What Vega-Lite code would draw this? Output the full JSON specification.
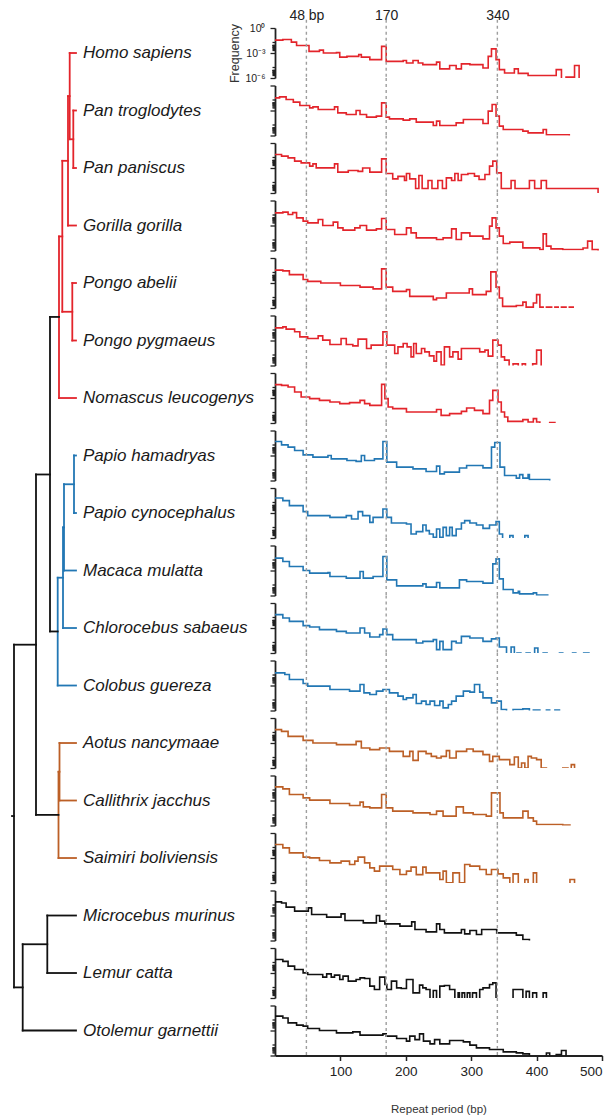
{
 "$schema": "https://vega.github.io/schema/vega-lite/v6.json",
 "background": "white",
 "padding": {"left": 0, "top": 8, "right": 4, "bottom": 4},
 "config": {"view": {"stroke": null}, "font": "Liberation Sans"},
 "datasets": {
  "sp": [
   {"s":0,"name":"Homo sapiens","clade":"Hominoidea"},
   {"s":1,"name":"Pan troglodytes","clade":"Hominoidea"},
   {"s":2,"name":"Pan paniscus","clade":"Hominoidea"},
   {"s":3,"name":"Gorilla gorilla","clade":"Hominoidea"},
   {"s":4,"name":"Pongo abelii","clade":"Hominoidea"},
   {"s":5,"name":"Pongo pygmaeus","clade":"Hominoidea"},
   {"s":6,"name":"Nomascus leucogenys","clade":"Hominoidea"},
   {"s":7,"name":"Papio hamadryas","clade":"Cercopithecidae"},
   {"s":8,"name":"Papio cynocephalus","clade":"Cercopithecidae"},
   {"s":9,"name":"Macaca mulatta","clade":"Cercopithecidae"},
   {"s":10,"name":"Chlorocebus sabaeus","clade":"Cercopithecidae"},
   {"s":11,"name":"Colobus guereza","clade":"Cercopithecidae"},
   {"s":12,"name":"Aotus nancymaae","clade":"Platyrrhini"},
   {"s":13,"name":"Callithrix jacchus","clade":"Platyrrhini"},
   {"s":14,"name":"Saimiri boliviensis","clade":"Platyrrhini"},
   {"s":15,"name":"Microcebus murinus","clade":"Strepsirrhini"},
   {"s":16,"name":"Lemur catta","clade":"Strepsirrhini"},
   {"s":17,"name":"Otolemur garnettii","clade":"Strepsirrhini"}
  ],
  "tree": [
   {"x":69.7,"x2":76,"y":0,"y2":0,"clade":"Hominoidea","name":"Homo sapiens"},
   {"x":73.3,"x2":76,"y":1,"y2":1,"clade":"Hominoidea","name":"Pan troglodytes"},
   {"x":73.3,"x2":76,"y":2,"y2":2,"clade":"Hominoidea","name":"Pan paniscus"},
   {"x":68,"x2":76,"y":3,"y2":3,"clade":"Hominoidea","name":"Gorilla gorilla"},
   {"x":72.3,"x2":76,"y":4,"y2":4,"clade":"Hominoidea","name":"Pongo abelii"},
   {"x":72.3,"x2":76,"y":5,"y2":5,"clade":"Hominoidea","name":"Pongo pygmaeus"},
   {"x":59,"x2":76,"y":6,"y2":6,"clade":"Hominoidea","name":"Nomascus leucogenys"},
   {"x":69.7,"x2":73.3,"y":1.5,"y2":1.5,"clade":"Hominoidea"},
   {"x":68,"x2":69.7,"y":0.75,"y2":0.75,"clade":"Hominoidea"},
   {"x":62.3,"x2":68,"y":1.875,"y2":1.875,"clade":"Hominoidea"},
   {"x":62.3,"x2":72.3,"y":4.5,"y2":4.5,"clade":"Hominoidea"},
   {"x":59,"x2":62.3,"y":3.19,"y2":3.19,"clade":"Hominoidea"},
   {"x":73.3,"x2":73.3,"y":1,"y2":2,"clade":"Hominoidea"},
   {"x":69.7,"x2":69.7,"y":0,"y2":1.5,"clade":"Hominoidea"},
   {"x":68,"x2":68,"y":0.75,"y2":3,"clade":"Hominoidea"},
   {"x":72.3,"x2":72.3,"y":4,"y2":5,"clade":"Hominoidea"},
   {"x":62.3,"x2":62.3,"y":1.875,"y2":4.5,"clade":"Hominoidea"},
   {"x":59,"x2":59,"y":3.19,"y2":6,"clade":"Hominoidea"},
   {"x":50,"x2":59,"y":4.59,"y2":4.59,"clade":"Stem"},
   {"x":74,"x2":76,"y":7,"y2":7,"clade":"Cercopithecidae","name":"Papio hamadryas"},
   {"x":74,"x2":76,"y":8,"y2":8,"clade":"Cercopithecidae","name":"Papio cynocephalus"},
   {"x":64,"x2":76,"y":9,"y2":9,"clade":"Cercopithecidae","name":"Macaca mulatta"},
   {"x":63,"x2":76,"y":10,"y2":10,"clade":"Cercopithecidae","name":"Chlorocebus sabaeus"},
   {"x":57.7,"x2":76,"y":11,"y2":11,"clade":"Cercopithecidae","name":"Colobus guereza"},
   {"x":64,"x2":74,"y":7.5,"y2":7.5,"clade":"Cercopithecidae"},
   {"x":63,"x2":64,"y":8.25,"y2":8.25,"clade":"Cercopithecidae"},
   {"x":57.7,"x2":63,"y":9.125,"y2":9.125,"clade":"Cercopithecidae"},
   {"x":74,"x2":74,"y":7,"y2":8,"clade":"Cercopithecidae"},
   {"x":64,"x2":64,"y":7.5,"y2":9,"clade":"Cercopithecidae"},
   {"x":63,"x2":63,"y":8.25,"y2":10,"clade":"Cercopithecidae"},
   {"x":57.7,"x2":57.7,"y":9.125,"y2":11,"clade":"Cercopithecidae"},
   {"x":50,"x2":57.7,"y":10.06,"y2":10.06,"clade":"Stem"},
   {"x":59.5,"x2":76,"y":12,"y2":12,"clade":"Platyrrhini","name":"Aotus nancymaae"},
   {"x":59.5,"x2":76,"y":13,"y2":13,"clade":"Platyrrhini","name":"Callithrix jacchus"},
   {"x":58.5,"x2":76,"y":14,"y2":14,"clade":"Platyrrhini","name":"Saimiri boliviensis"},
   {"x":58.5,"x2":59.5,"y":12.5,"y2":12.5,"clade":"Platyrrhini"},
   {"x":59.5,"x2":59.5,"y":12,"y2":13,"clade":"Platyrrhini"},
   {"x":58.5,"x2":58.5,"y":12.5,"y2":14,"clade":"Platyrrhini"},
   {"x":36,"x2":58.5,"y":13.25,"y2":13.25,"clade":"Stem"},
   {"x":47.3,"x2":76,"y":15,"y2":15,"clade":"Strepsirrhini","name":"Microcebus murinus"},
   {"x":47.3,"x2":76,"y":16,"y2":16,"clade":"Strepsirrhini","name":"Lemur catta"},
   {"x":22.7,"x2":76,"y":17,"y2":17,"clade":"Strepsirrhini","name":"Otolemur garnettii"},
   {"x":22.7,"x2":47.3,"y":15.5,"y2":15.5,"clade":"Strepsirrhini"},
   {"x":47.3,"x2":47.3,"y":15,"y2":16,"clade":"Strepsirrhini"},
   {"x":22.7,"x2":22.7,"y":15.5,"y2":17,"clade":"Strepsirrhini"},
   {"x":14,"x2":22.7,"y":16.25,"y2":16.25,"clade":"Stem"},
   {"x":50,"x2":50,"y":4.59,"y2":10.06,"clade":"Stem"},
   {"x":36,"x2":50,"y":7.33,"y2":7.33,"clade":"Stem"},
   {"x":36,"x2":36,"y":7.33,"y2":13.25,"clade":"Stem"},
   {"x":14,"x2":36,"y":10.29,"y2":10.29,"clade":"Stem"},
   {"x":14,"x2":14,"y":10.29,"y2":16.25,"clade":"Stem"},
   {"x":12,"x2":14,"y":13.27,"y2":13.27,"clade":"Stem"}
  ],
  "d": [
   {"s":0,"bp":0,"lf":-1.46},{"s":0,"bp":12,"lf":-1.38},{"s":0,"bp":25,"lf":-1.7},{"s":0,"bp":33,"lf":-2.1},{"s":0,"bp":52,"lf":-2.8},{"s":0,"bp":68,"lf":-2.66},{"s":0,"bp":74,"lf":-3.0},{"s":0,"bp":94,"lf":-2.95},{"s":0,"bp":99,"lf":-3.5},{"s":0,"bp":110,"lf":-3.4},{"s":0,"bp":128,"lf":-3.2},{"s":0,"bp":132,"lf":-3.5},{"s":0,"bp":145,"lf":-3.8},{"s":0,"bp":163,"lf":-2.2},{"s":0,"bp":170,"lf":-4.0},{"s":0,"bp":196,"lf":-3.9},{"s":0,"bp":201,"lf":-4.2},{"s":0,"bp":211,"lf":-3.9},{"s":0,"bp":219,"lf":-4.2},{"s":0,"bp":226,"lf":-4.4},{"s":0,"bp":247,"lf":-4.1},{"s":0,"bp":252,"lf":-4.9},{"s":0,"bp":267,"lf":-4.5},{"s":0,"bp":277,"lf":-4.9},{"s":0,"bp":285,"lf":-4.3},{"s":0,"bp":298,"lf":-4.4},{"s":0,"bp":318,"lf":-4.8},{"s":0,"bp":326,"lf":-3.4},{"s":0,"bp":331,"lf":-2.5},{"s":0,"bp":338,"lf":-3.8},{"s":0,"bp":343,"lf":-5.0},{"s":0,"bp":351,"lf":-5.4},{"s":0,"bp":366,"lf":-4.9},{"s":0,"bp":372,"lf":-5.45},{"s":0,"bp":387,"lf":-5.7},{"s":0,"bp":430,"lf":-5.0},{"s":0,"bp":438,"lf":-6.5},{"s":0,"bp":445,"lf":-5.9},{"s":0,"bp":458,"lf":-4.5},{"s":0,"bp":465,"lf":-7},
   {"s":1,"bp":0,"lf":-1.48},{"s":1,"bp":7,"lf":-1.36},{"s":1,"bp":17,"lf":-1.68},{"s":1,"bp":28,"lf":-2.0},{"s":1,"bp":38,"lf":-2.4},{"s":1,"bp":53,"lf":-2.68},{"s":1,"bp":58,"lf":-2.56},{"s":1,"bp":66,"lf":-2.88},{"s":1,"bp":91,"lf":-2.56},{"s":1,"bp":96,"lf":-3.28},{"s":1,"bp":109,"lf":-3.48},{"s":1,"bp":124,"lf":-3.0},{"s":1,"bp":130,"lf":-3.48},{"s":1,"bp":140,"lf":-3.8},{"s":1,"bp":155,"lf":-3.68},{"s":1,"bp":163,"lf":-2.08},{"s":1,"bp":170,"lf":-3.8},{"s":1,"bp":175,"lf":-4.0},{"s":1,"bp":196,"lf":-4.16},{"s":1,"bp":206,"lf":-4.0},{"s":1,"bp":216,"lf":-4.4},{"s":1,"bp":242,"lf":-4.8},{"s":1,"bp":247,"lf":-4.28},{"s":1,"bp":252,"lf":-4.8},{"s":1,"bp":277,"lf":-4.48},{"s":1,"bp":288,"lf":-4.08},{"s":1,"bp":318,"lf":-4.56},{"s":1,"bp":326,"lf":-3.08},{"s":1,"bp":332,"lf":-2.28},{"s":1,"bp":338,"lf":-3.68},{"s":1,"bp":343,"lf":-4.88},{"s":1,"bp":349,"lf":-5.28},{"s":1,"bp":379,"lf":-5.48},{"s":1,"bp":387,"lf":-5.68},{"s":1,"bp":410,"lf":-5.28},{"s":1,"bp":415,"lf":-5.92},{"s":1,"bp":450,"lf":-7},
   {"s":2,"bp":0,"lf":-1.38},{"s":2,"bp":10,"lf":-1.58},{"s":2,"bp":20,"lf":-1.78},{"s":2,"bp":30,"lf":-2.18},{"s":2,"bp":40,"lf":-2.38},{"s":2,"bp":53,"lf":-2.78},{"s":2,"bp":58,"lf":-2.5},{"s":2,"bp":63,"lf":-2.98},{"s":2,"bp":91,"lf":-2.5},{"s":2,"bp":96,"lf":-3.5},{"s":2,"bp":112,"lf":-3.3},{"s":2,"bp":127,"lf":-3.4},{"s":2,"bp":134,"lf":-3.0},{"s":2,"bp":145,"lf":-3.5},{"s":2,"bp":163,"lf":-1.9},{"s":2,"bp":170,"lf":-3.66},{"s":2,"bp":180,"lf":-4.3},{"s":2,"bp":188,"lf":-4.0},{"s":2,"bp":198,"lf":-4.5},{"s":2,"bp":201,"lf":-3.66},{"s":2,"bp":206,"lf":-4.3},{"s":2,"bp":215,"lf":-5.46},{"s":2,"bp":220,"lf":-3.9},{"s":2,"bp":225,"lf":-5.46},{"s":2,"bp":234,"lf":-4.5},{"s":2,"bp":240,"lf":-5.46},{"s":2,"bp":249,"lf":-4.5},{"s":2,"bp":256,"lf":-5.46},{"s":2,"bp":262,"lf":-4.18},{"s":2,"bp":270,"lf":-4.5},{"s":2,"bp":275,"lf":-3.66},{"s":2,"bp":280,"lf":-4.5},{"s":2,"bp":285,"lf":-3.78},{"s":2,"bp":295,"lf":-3.66},{"s":2,"bp":305,"lf":-3.98},{"s":2,"bp":312,"lf":-4.38},{"s":2,"bp":321,"lf":-3.78},{"s":2,"bp":328,"lf":-2.78},{"s":2,"bp":333,"lf":-2.18},{"s":2,"bp":339,"lf":-3.58},{"s":2,"bp":346,"lf":-5.46},{"s":2,"bp":361,"lf":-4.5},{"s":2,"bp":367,"lf":-5.46},{"s":2,"bp":389,"lf":-4.5},{"s":2,"bp":397,"lf":-5.46},{"s":2,"bp":407,"lf":-4.5},{"s":2,"bp":415,"lf":-5.46},{"s":2,"bp":494,"lf":-7},
   {"s":3,"bp":0,"lf":-1.48},{"s":3,"bp":12,"lf":-1.4},{"s":3,"bp":20,"lf":-1.68},{"s":3,"bp":27,"lf":-1.45},{"s":3,"bp":33,"lf":-2.08},{"s":3,"bp":43,"lf":-2.48},{"s":3,"bp":50,"lf":-2.68},{"s":3,"bp":66,"lf":-2.28},{"s":3,"bp":73,"lf":-3.0},{"s":3,"bp":89,"lf":-2.6},{"s":3,"bp":96,"lf":-3.28},{"s":3,"bp":104,"lf":-3.56},{"s":3,"bp":122,"lf":-3.28},{"s":3,"bp":130,"lf":-3.0},{"s":3,"bp":140,"lf":-3.56},{"s":3,"bp":155,"lf":-3.4},{"s":3,"bp":163,"lf":-2.16},{"s":3,"bp":170,"lf":-3.48},{"s":3,"bp":183,"lf":-4.08},{"s":3,"bp":201,"lf":-3.28},{"s":3,"bp":208,"lf":-3.88},{"s":3,"bp":216,"lf":-4.48},{"s":3,"bp":247,"lf":-4.68},{"s":3,"bp":257,"lf":-4.48},{"s":3,"bp":270,"lf":-3.4},{"s":3,"bp":277,"lf":-4.68},{"s":3,"bp":285,"lf":-3.88},{"s":3,"bp":298,"lf":-4.28},{"s":3,"bp":318,"lf":-4.6},{"s":3,"bp":328,"lf":-3.08},{"s":3,"bp":332,"lf":-2.08},{"s":3,"bp":338,"lf":-3.28},{"s":3,"bp":343,"lf":-4.28},{"s":3,"bp":349,"lf":-5.16},{"s":3,"bp":359,"lf":-5.0},{"s":3,"bp":379,"lf":-5.68},{"s":3,"bp":405,"lf":-5.88},{"s":3,"bp":410,"lf":-4.0},{"s":3,"bp":415,"lf":-5.48},{"s":3,"bp":422,"lf":-5.8},{"s":3,"bp":440,"lf":-5.88},{"s":3,"bp":471,"lf":-5.7},{"s":3,"bp":478,"lf":-4.88},{"s":3,"bp":485,"lf":-5.9},{"s":3,"bp":494,"lf":-7},
   {"s":4,"bp":0,"lf":-1.46},{"s":4,"bp":12,"lf":-1.55},{"s":4,"bp":22,"lf":-2.0},{"s":4,"bp":43,"lf":-2.58},{"s":4,"bp":50,"lf":-2.8},{"s":4,"bp":70,"lf":-3.0},{"s":4,"bp":100,"lf":-3.3},{"s":4,"bp":130,"lf":-3.5},{"s":4,"bp":150,"lf":-3.7},{"s":4,"bp":163,"lf":-1.3},{"s":4,"bp":170,"lf":-3.5},{"s":4,"bp":180,"lf":-4.0},{"s":4,"bp":201,"lf":-3.8},{"s":4,"bp":206,"lf":-4.6},{"s":4,"bp":242,"lf":-5.0},{"s":4,"bp":247,"lf":-4.8},{"s":4,"bp":262,"lf":-4.2},{"s":4,"bp":297,"lf":-3.7},{"s":4,"bp":302,"lf":-4.4},{"s":4,"bp":323,"lf":-4.0},{"s":4,"bp":330,"lf":-1.66},{"s":4,"bp":338,"lf":-3.5},{"s":4,"bp":343,"lf":-4.8},{"s":4,"bp":348,"lf":-5.8},{"s":4,"bp":369,"lf":-5.7},{"s":4,"bp":379,"lf":-5.3},{"s":4,"bp":384,"lf":-5.9},{"s":4,"bp":395,"lf":-5.4},{"s":4,"bp":400,"lf":-4.4},{"s":4,"bp":405,"lf":-5.9},{"s":4,"bp":410,"lf":-7},{"s":4,"bp":415,"lf":-5.9},{"s":4,"bp":423,"lf":-7},{"s":4,"bp":428,"lf":-5.9},{"s":4,"bp":433,"lf":-7},{"s":4,"bp":438,"lf":-5.9},{"s":4,"bp":445,"lf":-7},{"s":4,"bp":450,"lf":-5.9},{"s":4,"bp":456,"lf":-7},
   {"s":5,"bp":0,"lf":-1.48},{"s":5,"bp":12,"lf":-1.36},{"s":5,"bp":17,"lf":-1.64},{"s":5,"bp":30,"lf":-1.95},{"s":5,"bp":38,"lf":-2.56},{"s":5,"bp":50,"lf":-2.76},{"s":5,"bp":66,"lf":-2.44},{"s":5,"bp":73,"lf":-2.96},{"s":5,"bp":84,"lf":-3.48},{"s":5,"bp":101,"lf":-2.76},{"s":5,"bp":109,"lf":-3.48},{"s":5,"bp":119,"lf":-3.64},{"s":5,"bp":127,"lf":-2.84},{"s":5,"bp":140,"lf":-3.96},{"s":5,"bp":147,"lf":-3.56},{"s":5,"bp":165,"lf":-1.96},{"s":5,"bp":171,"lf":-3.56},{"s":5,"bp":183,"lf":-4.56},{"s":5,"bp":188,"lf":-3.76},{"s":5,"bp":196,"lf":-3.36},{"s":5,"bp":202,"lf":-3.76},{"s":5,"bp":208,"lf":-4.96},{"s":5,"bp":212,"lf":-3.36},{"s":5,"bp":216,"lf":-4.56},{"s":5,"bp":224,"lf":-3.96},{"s":5,"bp":229,"lf":-4.36},{"s":5,"bp":236,"lf":-4.84},{"s":5,"bp":243,"lf":-5.48},{"s":5,"bp":247,"lf":-4.36},{"s":5,"bp":254,"lf":-5.96},{"s":5,"bp":259,"lf":-3.76},{"s":5,"bp":267,"lf":-4.96},{"s":5,"bp":272,"lf":-4.36},{"s":5,"bp":280,"lf":-5.24},{"s":5,"bp":285,"lf":-3.96},{"s":5,"bp":313,"lf":-4.36},{"s":5,"bp":321,"lf":-4.16},{"s":5,"bp":326,"lf":-4.88},{"s":5,"bp":333,"lf":-2.96},{"s":5,"bp":341,"lf":-3.56},{"s":5,"bp":346,"lf":-4.96},{"s":5,"bp":351,"lf":-5.36},{"s":5,"bp":358,"lf":-7},{"s":5,"bp":364,"lf":-5.8},{"s":5,"bp":372,"lf":-7},{"s":5,"bp":378,"lf":-5.8},{"s":5,"bp":383,"lf":-7},{"s":5,"bp":394,"lf":-5.8},{"s":5,"bp":400,"lf":-4.16},{"s":5,"bp":407,"lf":-7},
   {"s":6,"bp":0,"lf":-1.4},{"s":6,"bp":10,"lf":-1.48},{"s":6,"bp":20,"lf":-1.68},{"s":6,"bp":30,"lf":-2.28},{"s":6,"bp":40,"lf":-2.88},{"s":6,"bp":53,"lf":-3.08},{"s":6,"bp":68,"lf":-3.28},{"s":6,"bp":84,"lf":-3.48},{"s":6,"bp":99,"lf":-3.68},{"s":6,"bp":114,"lf":-3.56},{"s":6,"bp":130,"lf":-3.28},{"s":6,"bp":137,"lf":-3.68},{"s":6,"bp":145,"lf":-3.88},{"s":6,"bp":163,"lf":-1.36},{"s":6,"bp":168,"lf":-3.08},{"s":6,"bp":173,"lf":-4.08},{"s":6,"bp":180,"lf":-4.28},{"s":6,"bp":201,"lf":-4.68},{"s":6,"bp":247,"lf":-4.38},{"s":6,"bp":254,"lf":-5.08},{"s":6,"bp":267,"lf":-4.88},{"s":6,"bp":285,"lf":-4.6},{"s":6,"bp":293,"lf":-4.2},{"s":6,"bp":305,"lf":-4.48},{"s":6,"bp":318,"lf":-4.88},{"s":6,"bp":328,"lf":-3.28},{"s":6,"bp":333,"lf":-2.08},{"s":6,"bp":341,"lf":-3.48},{"s":6,"bp":346,"lf":-4.68},{"s":6,"bp":351,"lf":-5.28},{"s":6,"bp":356,"lf":-5.8},{"s":6,"bp":379,"lf":-5.6},{"s":6,"bp":387,"lf":-5.88},{"s":6,"bp":395,"lf":-5.48},{"s":6,"bp":400,"lf":-5.88},{"s":6,"bp":405,"lf":-7},{"s":6,"bp":420,"lf":-5.95},{"s":6,"bp":428,"lf":-7},
   {"s":7,"bp":0,"lf":-1.32},{"s":7,"bp":10,"lf":-1.72},{"s":7,"bp":20,"lf":-2.0},{"s":7,"bp":30,"lf":-2.4},{"s":7,"bp":43,"lf":-2.92},{"s":7,"bp":58,"lf":-3.2},{"s":7,"bp":81,"lf":-3.0},{"s":7,"bp":86,"lf":-3.4},{"s":7,"bp":110,"lf":-3.6},{"s":7,"bp":124,"lf":-3.7},{"s":7,"bp":132,"lf":-3.0},{"s":7,"bp":137,"lf":-3.6},{"s":7,"bp":152,"lf":-3.4},{"s":7,"bp":165,"lf":-1.32},{"s":7,"bp":171,"lf":-3.8},{"s":7,"bp":186,"lf":-4.4},{"s":7,"bp":211,"lf":-4.6},{"s":7,"bp":231,"lf":-4.92},{"s":7,"bp":247,"lf":-4.28},{"s":7,"bp":252,"lf":-5.2},{"s":7,"bp":259,"lf":-5.0},{"s":7,"bp":282,"lf":-4.5},{"s":7,"bp":293,"lf":-4.2},{"s":7,"bp":318,"lf":-4.48},{"s":7,"bp":331,"lf":-2.0},{"s":7,"bp":336,"lf":-1.44},{"s":7,"bp":344,"lf":-4.4},{"s":7,"bp":351,"lf":-5.4},{"s":7,"bp":369,"lf":-5.72},{"s":7,"bp":374,"lf":-5.3},{"s":7,"bp":379,"lf":-5.72},{"s":7,"bp":387,"lf":-5.3},{"s":7,"bp":389,"lf":-5.88},{"s":7,"bp":420,"lf":-7},
   {"s":8,"bp":0,"lf":-1.2},{"s":8,"bp":12,"lf":-1.52},{"s":8,"bp":22,"lf":-2.12},{"s":8,"bp":43,"lf":-2.84},{"s":8,"bp":50,"lf":-3.32},{"s":8,"bp":84,"lf":-3.52},{"s":8,"bp":109,"lf":-3.32},{"s":8,"bp":117,"lf":-3.72},{"s":8,"bp":127,"lf":-2.84},{"s":8,"bp":134,"lf":-3.32},{"s":8,"bp":145,"lf":-4.12},{"s":8,"bp":150,"lf":-3.52},{"s":8,"bp":165,"lf":-2.52},{"s":8,"bp":171,"lf":-3.52},{"s":8,"bp":178,"lf":-4.2},{"s":8,"bp":201,"lf":-4.32},{"s":8,"bp":208,"lf":-5.52},{"s":8,"bp":216,"lf":-5.24},{"s":8,"bp":226,"lf":-4.44},{"s":8,"bp":231,"lf":-5.12},{"s":8,"bp":236,"lf":-5.52},{"s":8,"bp":242,"lf":-5.92},{"s":8,"bp":247,"lf":-4.92},{"s":8,"bp":252,"lf":-5.92},{"s":8,"bp":257,"lf":-4.72},{"s":8,"bp":262,"lf":-5.72},{"s":8,"bp":267,"lf":-4.72},{"s":8,"bp":271,"lf":-5.72},{"s":8,"bp":277,"lf":-4.92},{"s":8,"bp":285,"lf":-4.2},{"s":8,"bp":290,"lf":-3.92},{"s":8,"bp":298,"lf":-4.2},{"s":8,"bp":308,"lf":-4.44},{"s":8,"bp":318,"lf":-4.84},{"s":8,"bp":328,"lf":-4.44},{"s":8,"bp":338,"lf":-4.04},{"s":8,"bp":343,"lf":-5.52},{"s":8,"bp":348,"lf":-7},{"s":8,"bp":359,"lf":-5.72},{"s":8,"bp":364,"lf":-7},{"s":8,"bp":382,"lf":-5.72},{"s":8,"bp":387,"lf":-7},
   {"s":9,"bp":0,"lf":-1.52},{"s":9,"bp":12,"lf":-1.92},{"s":9,"bp":22,"lf":-2.52},{"s":9,"bp":43,"lf":-3.0},{"s":9,"bp":53,"lf":-3.32},{"s":9,"bp":81,"lf":-3.25},{"s":9,"bp":84,"lf":-3.72},{"s":9,"bp":109,"lf":-3.92},{"s":9,"bp":130,"lf":-3.12},{"s":9,"bp":135,"lf":-3.92},{"s":9,"bp":150,"lf":-3.72},{"s":9,"bp":165,"lf":-1.32},{"s":9,"bp":171,"lf":-4.12},{"s":9,"bp":186,"lf":-4.84},{"s":9,"bp":226,"lf":-4.6},{"s":9,"bp":231,"lf":-5.0},{"s":9,"bp":247,"lf":-4.44},{"s":9,"bp":252,"lf":-5.08},{"s":9,"bp":282,"lf":-4.12},{"s":9,"bp":293,"lf":-4.32},{"s":9,"bp":318,"lf":-4.52},{"s":9,"bp":333,"lf":-2.2},{"s":9,"bp":338,"lf":-1.6},{"s":9,"bp":343,"lf":-4.0},{"s":9,"bp":349,"lf":-5.28},{"s":9,"bp":364,"lf":-5.68},{"s":9,"bp":372,"lf":-5.5},{"s":9,"bp":374,"lf":-5.8},{"s":9,"bp":395,"lf":-5.68},{"s":9,"bp":400,"lf":-5.95},{"s":9,"bp":417,"lf":-7},
   {"s":10,"bp":0,"lf":-1.4},{"s":10,"bp":12,"lf":-1.8},{"s":10,"bp":22,"lf":-2.2},{"s":10,"bp":43,"lf":-2.72},{"s":10,"bp":53,"lf":-2.88},{"s":10,"bp":68,"lf":-3.2},{"s":10,"bp":94,"lf":-3.4},{"s":10,"bp":109,"lf":-3.6},{"s":10,"bp":130,"lf":-3.0},{"s":10,"bp":137,"lf":-3.6},{"s":10,"bp":145,"lf":-4.08},{"s":10,"bp":160,"lf":-3.8},{"s":10,"bp":165,"lf":-3.12},{"s":10,"bp":171,"lf":-3.8},{"s":10,"bp":180,"lf":-4.4},{"s":10,"bp":216,"lf":-4.8},{"s":10,"bp":226,"lf":-4.6},{"s":10,"bp":242,"lf":-4.4},{"s":10,"bp":247,"lf":-5.6},{"s":10,"bp":252,"lf":-4.6},{"s":10,"bp":257,"lf":-5.6},{"s":10,"bp":270,"lf":-4.6},{"s":10,"bp":277,"lf":-4.8},{"s":10,"bp":285,"lf":-4.0},{"s":10,"bp":298,"lf":-4.2},{"s":10,"bp":318,"lf":-4.6},{"s":10,"bp":331,"lf":-4.3},{"s":10,"bp":338,"lf":-4.2},{"s":10,"bp":343,"lf":-5.28},{"s":10,"bp":354,"lf":-7},{"s":10,"bp":361,"lf":-5.28},{"s":10,"bp":366,"lf":-7},{"s":10,"bp":370,"lf":-6.0},{"s":10,"bp":376,"lf":-7},{"s":10,"bp":384,"lf":-6.0},{"s":10,"bp":390,"lf":-7},{"s":10,"bp":397,"lf":-5.4},{"s":10,"bp":402,"lf":-7},{"s":10,"bp":410,"lf":-6.0},{"s":10,"bp":416,"lf":-7},{"s":10,"bp":435,"lf":-6.0},{"s":10,"bp":440,"lf":-7},{"s":10,"bp":455,"lf":-6.0},{"s":10,"bp":460,"lf":-7},{"s":10,"bp":472,"lf":-6.0},{"s":10,"bp":480,"lf":-7},
   {"s":11,"bp":0,"lf":-1.48},{"s":11,"bp":15,"lf":-1.68},{"s":11,"bp":22,"lf":-2.28},{"s":11,"bp":43,"lf":-2.76},{"s":11,"bp":50,"lf":-3.08},{"s":11,"bp":84,"lf":-3.48},{"s":11,"bp":114,"lf":-3.68},{"s":11,"bp":130,"lf":-2.88},{"s":11,"bp":136,"lf":-3.88},{"s":11,"bp":145,"lf":-4.08},{"s":11,"bp":155,"lf":-3.68},{"s":11,"bp":165,"lf":-3.48},{"s":11,"bp":175,"lf":-3.88},{"s":11,"bp":188,"lf":-4.28},{"s":11,"bp":196,"lf":-4.68},{"s":11,"bp":201,"lf":-4.48},{"s":11,"bp":211,"lf":-4.08},{"s":11,"bp":216,"lf":-5.16},{"s":11,"bp":224,"lf":-4.88},{"s":11,"bp":231,"lf":-5.28},{"s":11,"bp":237,"lf":-4.88},{"s":11,"bp":244,"lf":-5.4},{"s":11,"bp":252,"lf":-4.88},{"s":11,"bp":257,"lf":-5.68},{"s":11,"bp":265,"lf":-5.28},{"s":11,"bp":270,"lf":-4.88},{"s":11,"bp":277,"lf":-4.28},{"s":11,"bp":288,"lf":-3.68},{"s":11,"bp":298,"lf":-3.8},{"s":11,"bp":305,"lf":-2.88},{"s":11,"bp":313,"lf":-3.8},{"s":11,"bp":318,"lf":-4.48},{"s":11,"bp":331,"lf":-5.08},{"s":11,"bp":339,"lf":-4.88},{"s":11,"bp":346,"lf":-5.88},{"s":11,"bp":354,"lf":-7},{"s":11,"bp":364,"lf":-5.88},{"s":11,"bp":379,"lf":-5.8},{"s":11,"bp":389,"lf":-7},{"s":11,"bp":395,"lf":-5.95},{"s":11,"bp":405,"lf":-7},{"s":11,"bp":415,"lf":-5.95},{"s":11,"bp":420,"lf":-7},{"s":11,"bp":428,"lf":-5.95},{"s":11,"bp":435,"lf":-7},
   {"s":12,"bp":0,"lf":-1.4},{"s":12,"bp":10,"lf":-1.6},{"s":12,"bp":20,"lf":-2.2},{"s":12,"bp":43,"lf":-2.68},{"s":12,"bp":58,"lf":-3.0},{"s":12,"bp":94,"lf":-3.2},{"s":12,"bp":124,"lf":-2.8},{"s":12,"bp":132,"lf":-3.6},{"s":12,"bp":145,"lf":-3.8},{"s":12,"bp":160,"lf":-3.6},{"s":12,"bp":175,"lf":-4.0},{"s":12,"bp":196,"lf":-4.6},{"s":12,"bp":206,"lf":-4.0},{"s":12,"bp":211,"lf":-5.08},{"s":12,"bp":219,"lf":-4.0},{"s":12,"bp":231,"lf":-4.28},{"s":12,"bp":239,"lf":-4.6},{"s":12,"bp":247,"lf":-4.8},{"s":12,"bp":254,"lf":-4.6},{"s":12,"bp":262,"lf":-3.92},{"s":12,"bp":267,"lf":-4.8},{"s":12,"bp":277,"lf":-4.0},{"s":12,"bp":293,"lf":-3.72},{"s":12,"bp":303,"lf":-4.0},{"s":12,"bp":318,"lf":-4.4},{"s":12,"bp":328,"lf":-5.2},{"s":12,"bp":333,"lf":-4.6},{"s":12,"bp":343,"lf":-5.0},{"s":12,"bp":359,"lf":-5.6},{"s":12,"bp":366,"lf":-4.68},{"s":12,"bp":372,"lf":-6.0},{"s":12,"bp":377,"lf":-5.4},{"s":12,"bp":382,"lf":-6.0},{"s":12,"bp":387,"lf":-4.6},{"s":12,"bp":392,"lf":-4.8},{"s":12,"bp":400,"lf":-5.0},{"s":12,"bp":407,"lf":-6.0},{"s":12,"bp":415,"lf":-7},{"s":12,"bp":440,"lf":-6.0},{"s":12,"bp":448,"lf":-7},{"s":12,"bp":453,"lf":-5.6},{"s":12,"bp":458,"lf":-7},
   {"s":13,"bp":0,"lf":-1.36},{"s":13,"bp":12,"lf":-1.6},{"s":13,"bp":22,"lf":-2.28},{"s":13,"bp":43,"lf":-2.68},{"s":13,"bp":53,"lf":-2.96},{"s":13,"bp":84,"lf":-3.36},{"s":13,"bp":114,"lf":-3.6},{"s":13,"bp":130,"lf":-3.2},{"s":13,"bp":135,"lf":-3.76},{"s":13,"bp":145,"lf":-3.88},{"s":13,"bp":163,"lf":-2.28},{"s":13,"bp":170,"lf":-3.88},{"s":13,"bp":180,"lf":-4.28},{"s":13,"bp":211,"lf":-4.48},{"s":13,"bp":237,"lf":-4.68},{"s":13,"bp":247,"lf":-4.28},{"s":13,"bp":257,"lf":-4.88},{"s":13,"bp":277,"lf":-3.76},{"s":13,"bp":288,"lf":-4.48},{"s":13,"bp":303,"lf":-4.68},{"s":13,"bp":323,"lf":-4.88},{"s":13,"bp":331,"lf":-2.08},{"s":13,"bp":344,"lf":-4.48},{"s":13,"bp":349,"lf":-5.08},{"s":13,"bp":379,"lf":-4.28},{"s":13,"bp":387,"lf":-5.08},{"s":13,"bp":395,"lf":-5.48},{"s":13,"bp":400,"lf":-5.88},{"s":13,"bp":440,"lf":-5.95},{"s":13,"bp":451,"lf":-7},
   {"s":14,"bp":0,"lf":-1.38},{"s":14,"bp":12,"lf":-1.78},{"s":14,"bp":22,"lf":-2.38},{"s":14,"bp":43,"lf":-2.9},{"s":14,"bp":53,"lf":-2.98},{"s":14,"bp":68,"lf":-3.3},{"s":14,"bp":84,"lf":-3.58},{"s":14,"bp":101,"lf":-3.38},{"s":14,"bp":114,"lf":-3.78},{"s":14,"bp":122,"lf":-3.38},{"s":14,"bp":127,"lf":-2.9},{"s":14,"bp":137,"lf":-3.58},{"s":14,"bp":145,"lf":-4.18},{"s":14,"bp":152,"lf":-4.58},{"s":14,"bp":160,"lf":-3.98},{"s":14,"bp":180,"lf":-4.38},{"s":14,"bp":191,"lf":-4.98},{"s":14,"bp":201,"lf":-4.58},{"s":14,"bp":208,"lf":-4.1},{"s":14,"bp":216,"lf":-5.0},{"s":14,"bp":226,"lf":-4.1},{"s":14,"bp":231,"lf":-4.78},{"s":14,"bp":252,"lf":-5.58},{"s":14,"bp":257,"lf":-4.58},{"s":14,"bp":262,"lf":-5.98},{"s":14,"bp":272,"lf":-4.78},{"s":14,"bp":282,"lf":-5.98},{"s":14,"bp":290,"lf":-3.78},{"s":14,"bp":298,"lf":-3.98},{"s":14,"bp":313,"lf":-4.38},{"s":14,"bp":323,"lf":-4.98},{"s":14,"bp":331,"lf":-4.38},{"s":14,"bp":341,"lf":-4.9},{"s":14,"bp":349,"lf":-5.38},{"s":14,"bp":359,"lf":-7},{"s":14,"bp":364,"lf":-4.9},{"s":14,"bp":372,"lf":-7},{"s":14,"bp":382,"lf":-5.58},{"s":14,"bp":387,"lf":-7},{"s":14,"bp":395,"lf":-4.78},{"s":14,"bp":400,"lf":-7},{"s":14,"bp":451,"lf":-5.58},{"s":14,"bp":458,"lf":-7},
   {"s":15,"bp":0,"lf":-1.36},{"s":15,"bp":10,"lf":-1.5},{"s":15,"bp":17,"lf":-2.0},{"s":15,"bp":30,"lf":-2.48},{"s":15,"bp":51,"lf":-2.08},{"s":15,"bp":56,"lf":-2.88},{"s":15,"bp":79,"lf":-3.2},{"s":15,"bp":101,"lf":-2.8},{"s":15,"bp":107,"lf":-3.6},{"s":15,"bp":135,"lf":-3.88},{"s":15,"bp":155,"lf":-3.0},{"s":15,"bp":160,"lf":-3.68},{"s":15,"bp":168,"lf":-4.0},{"s":15,"bp":191,"lf":-4.28},{"s":15,"bp":209,"lf":-3.76},{"s":15,"bp":214,"lf":-4.68},{"s":15,"bp":231,"lf":-4.96},{"s":15,"bp":247,"lf":-4.0},{"s":15,"bp":252,"lf":-4.68},{"s":15,"bp":259,"lf":-5.08},{"s":15,"bp":285,"lf":-4.68},{"s":15,"bp":290,"lf":-5.2},{"s":15,"bp":298,"lf":-4.8},{"s":15,"bp":308,"lf":-5.28},{"s":15,"bp":316,"lf":-4.68},{"s":15,"bp":339,"lf":-5.08},{"s":15,"bp":369,"lf":-5.36},{"s":15,"bp":379,"lf":-5.88},{"s":15,"bp":389,"lf":-7},
   {"s":16,"bp":0,"lf":-1.38},{"s":16,"bp":12,"lf":-1.6},{"s":16,"bp":20,"lf":-2.18},{"s":16,"bp":30,"lf":-2.58},{"s":16,"bp":43,"lf":-2.98},{"s":16,"bp":50,"lf":-3.18},{"s":16,"bp":73,"lf":-3.5},{"s":16,"bp":79,"lf":-3.1},{"s":16,"bp":86,"lf":-3.5},{"s":16,"bp":91,"lf":-3.26},{"s":16,"bp":99,"lf":-3.78},{"s":16,"bp":104,"lf":-3.38},{"s":16,"bp":112,"lf":-3.98},{"s":16,"bp":124,"lf":-3.78},{"s":16,"bp":130,"lf":-3.58},{"s":16,"bp":137,"lf":-3.66},{"s":16,"bp":145,"lf":-4.58},{"s":16,"bp":152,"lf":-4.98},{"s":16,"bp":160,"lf":-3.5},{"s":16,"bp":168,"lf":-4.38},{"s":16,"bp":171,"lf":-4.98},{"s":16,"bp":178,"lf":-3.98},{"s":16,"bp":186,"lf":-4.78},{"s":16,"bp":193,"lf":-4.86},{"s":16,"bp":201,"lf":-3.78},{"s":16,"bp":211,"lf":-5.38},{"s":16,"bp":221,"lf":-4.46},{"s":16,"bp":226,"lf":-4.78},{"s":16,"bp":231,"lf":-4.98},{"s":16,"bp":237,"lf":-7},{"s":16,"bp":242,"lf":-5.1},{"s":16,"bp":247,"lf":-7},{"s":16,"bp":252,"lf":-4.58},{"s":16,"bp":259,"lf":-4.5},{"s":16,"bp":267,"lf":-4.98},{"s":16,"bp":275,"lf":-7},{"s":16,"bp":280,"lf":-5.38},{"s":16,"bp":282,"lf":-7},{"s":16,"bp":286,"lf":-5.38},{"s":16,"bp":290,"lf":-7},{"s":16,"bp":294,"lf":-5.38},{"s":16,"bp":298,"lf":-7},{"s":16,"bp":302,"lf":-5.38},{"s":16,"bp":308,"lf":-7},{"s":16,"bp":313,"lf":-4.98},{"s":16,"bp":318,"lf":-4.78},{"s":16,"bp":328,"lf":-4.38},{"s":16,"bp":333,"lf":-4.18},{"s":16,"bp":338,"lf":-7},{"s":16,"bp":364,"lf":-4.98},{"s":16,"bp":379,"lf":-7},{"s":16,"bp":384,"lf":-5.2},{"s":16,"bp":389,"lf":-7},{"s":16,"bp":394,"lf":-5.38},{"s":16,"bp":400,"lf":-7},{"s":16,"bp":410,"lf":-5.38},{"s":16,"bp":415,"lf":-7},
   {"s":17,"bp":0,"lf":-1.28},{"s":17,"bp":12,"lf":-1.5},{"s":17,"bp":20,"lf":-2.08},{"s":17,"bp":33,"lf":-2.36},{"s":17,"bp":43,"lf":-2.48},{"s":17,"bp":50,"lf":-2.76},{"s":17,"bp":68,"lf":-3.0},{"s":17,"bp":94,"lf":-3.28},{"s":17,"bp":119,"lf":-3.16},{"s":17,"bp":130,"lf":-3.56},{"s":17,"bp":165,"lf":-3.4},{"s":17,"bp":170,"lf":-3.68},{"s":17,"bp":186,"lf":-3.96},{"s":17,"bp":201,"lf":-4.28},{"s":17,"bp":206,"lf":-3.68},{"s":17,"bp":214,"lf":-4.1},{"s":17,"bp":221,"lf":-3.4},{"s":17,"bp":227,"lf":-4.28},{"s":17,"bp":237,"lf":-4.6},{"s":17,"bp":244,"lf":-4.1},{"s":17,"bp":252,"lf":-4.6},{"s":17,"bp":267,"lf":-4.2},{"s":17,"bp":288,"lf":-4.36},{"s":17,"bp":298,"lf":-4.76},{"s":17,"bp":308,"lf":-5.08},{"s":17,"bp":328,"lf":-5.28},{"s":17,"bp":349,"lf":-5.56},{"s":17,"bp":369,"lf":-5.68},{"s":17,"bp":379,"lf":-5.8},{"s":17,"bp":389,"lf":-7},{"s":17,"bp":415,"lf":-5.7},{"s":17,"bp":420,"lf":-7},{"s":17,"bp":430,"lf":-5.9},{"s":17,"bp":438,"lf":-5.4},{"s":17,"bp":445,"lf":-7}
  ]
 },
 "hconcat": [
  {
   "width": 275,
   "height": 1035,
   "layer": [
    {
     "data": {"name": "tree"},
     "mark": {"type": "rule", "strokeWidth": 1.8, "strokeCap": "square"},
     "encoding": {
      "x": {"field": "x", "type": "quantitative", "scale": {"domain": [0, 275], "nice": false, "zero": false}, "axis": null},
      "x2": {"field": "x2"},
      "y": {"field": "y", "type": "quantitative", "scale": {"domain": [17.565, -0.435], "nice": false, "zero": false}, "axis": null},
      "y2": {"field": "y2"},
      "color": {"field": "clade", "type": "nominal", "scale": {"domain": ["Hominoidea", "Cercopithecidae", "Platyrrhini", "Strepsirrhini", "Stem"], "range": ["#e3242b", "#2277b4", "#bc5f26", "#111111", "#111111"]}, "legend": null}
     }
    },
    {
     "data": {"name": "tree"},
     "transform": [{"filter": "isValid(datum.name)"}],
     "mark": {"type": "text", "align": "left", "baseline": "middle", "dx": 7, "fontSize": 17, "fontStyle": "italic", "font": "Liberation Sans", "color": "#1a1a1a"},
     "encoding": {
      "x": {"field": "x2", "type": "quantitative"},
      "y": {"field": "y", "type": "quantitative"},
      "text": {"field": "name"}
     }
    }
   ]
  },
  {
   "spacing": 7.5,
   "bounds": "flush",
   "vconcat": [
    {
     "data": {"name": "d"},
     "transform": [{"filter": "datum.s == 0"}, {"lookup": "s", "from": {"data": {"name": "sp"}, "key": "s", "fields": ["clade"]}}],
     "width": 327,
     "height": 50,
     "layer": [
      {
       "mark": {"type": "line", "interpolate": "step-after", "strokeWidth": 1.6, "clip": true},
       "encoding": {
        "x": {"field": "bp", "type": "quantitative", "scale": {"domain": [0, 500], "nice": false}, "axis": {"orient": "top", "values": [48, 170, 340], "tickCount": 10, "labelExpr": "datum.value == 48 ? '48 bp' : datum.label", "domain": false, "ticks": false, "tickSize": 0, "labelPadding": 6, "labelFontSize": 14, "labelColor": "#222", "title": null, "grid": false}},
        "y": {"field": "lf", "type": "quantitative", "scale": {"domain": [-6, 0], "nice": false}, "axis": {"values": [0, -1.699, -2, -2.046, -2.097, -2.155, -2.222, -2.301, -2.398, -2.523, -2.699, -3, -4.699, -5, -5.046, -5.097, -5.155, -5.222, -5.301, -5.398, -5.523, -5.699, -6], "tickCount": 40, "labelExpr": "datum.value == 0 ? '10⁰' : datum.value == -3 ? '10⁻³' : datum.value == -6 ? '10⁻⁶' : ''", "labelFontSize": 10.5, "labelColor": "#222", "labelPadding": 5, "labelOverlap": false, "domainColor": "#222", "domainWidth": 1.8, "tickColor": "#222", "tickWidth": 1.3, "tickSize": {"condition": {"test": "datum.value == 0 || datum.value == -3 || datum.value == -6", "value": 5}, "value": 3}, "title": "Frequency", "titleFontSize": 12.5, "titleFontWeight": "normal", "titleColor": "#333", "titlePadding": 3, "grid": false}},
        "color": {"field": "clade", "type": "nominal", "scale": {"domain": ["Hominoidea", "Cercopithecidae", "Platyrrhini", "Strepsirrhini", "Stem"], "range": ["#e3242b", "#2277b4", "#bc5f26", "#111111", "#111111"]}, "legend": null}
       }
      },
      {"transform": [{"filter": "datum.bp == 0"}], "mark": {"type": "rule", "strokeDash": [3, 3], "color": "#9e9e9e", "strokeWidth": 1.4, "clip": false}, "encoding": {"x": {"datum": 48}, "y": {"datum": 1.0}, "y2": {"datum": -6}}},
      {"transform": [{"filter": "datum.bp == 0"}], "mark": {"type": "rule", "strokeDash": [3, 3], "color": "#9e9e9e", "strokeWidth": 1.4, "clip": false}, "encoding": {"x": {"datum": 170}, "y": {"datum": 1.0}, "y2": {"datum": -6}}},
      {"transform": [{"filter": "datum.bp == 0"}], "mark": {"type": "rule", "strokeDash": [3, 3], "color": "#9e9e9e", "strokeWidth": 1.4, "clip": false}, "encoding": {"x": {"datum": 340}, "y": {"datum": 1.0}, "y2": {"datum": -6}}}
     ]
    },
    {
     "data": {"name": "d"},
     "transform": [{"filter": "datum.s > 0"}, {"lookup": "s", "from": {"data": {"name": "sp"}, "key": "s", "fields": ["clade"]}}],
     "facet": {"row": {"field": "s", "type": "ordinal", "header": null}},
     "spacing": 7.5,
     "bounds": "flush",
     "spec": {
      "width": 327,
      "height": 50,
      "layer": [
       {
        "mark": {"type": "line", "interpolate": "step-after", "strokeWidth": 1.6, "clip": true},
        "encoding": {
         "x": {"field": "bp", "type": "quantitative", "scale": {"domain": [0, 500], "nice": false}, "axis": {"values": [100, 200, 300, 400, 500], "tickCount": 10, "domainColor": "#222", "domainWidth": 1.8, "tickColor": "#222", "tickWidth": 1.5, "tickSize": 5, "labelFontSize": 13.5, "labelColor": "#222", "labelPadding": 4, "title": "Repeat period (bp)", "titleFontSize": 11.5, "titleFontWeight": "normal", "titleColor": "#333", "titlePadding": 25, "grid": false}},
         "y": {"field": "lf", "type": "quantitative", "scale": {"domain": [-6, 0], "nice": false}, "axis": {"values": [0, -1.699, -2, -2.046, -2.097, -2.155, -2.222, -2.301, -2.398, -2.523, -2.699, -3, -4.699, -5, -5.046, -5.097, -5.155, -5.222, -5.301, -5.398, -5.523, -5.699, -6], "tickCount": 40, "labels": false, "domainColor": "#222", "domainWidth": 1.8, "tickColor": "#222", "tickWidth": 1.3, "tickSize": {"condition": {"test": "datum.value == 0 || datum.value == -3 || datum.value == -6", "value": 5}, "value": 3}, "title": null, "grid": false}},
         "color": {"field": "clade", "type": "nominal", "scale": {"domain": ["Hominoidea", "Cercopithecidae", "Platyrrhini", "Strepsirrhini", "Stem"], "range": ["#e3242b", "#2277b4", "#bc5f26", "#111111", "#111111"]}, "legend": null}
        }
       },
       {"transform": [{"filter": "datum.bp == 0"}], "mark": {"type": "rule", "strokeDash": [3, 3], "color": "#9e9e9e", "strokeWidth": 1.4, "clip": false}, "encoding": {"x": {"datum": 48}, "y": {"datum": 0.9}, "y2": {"datum": -6}}},
       {"transform": [{"filter": "datum.bp == 0"}], "mark": {"type": "rule", "strokeDash": [3, 3], "color": "#9e9e9e", "strokeWidth": 1.4, "clip": false}, "encoding": {"x": {"datum": 170}, "y": {"datum": 0.9}, "y2": {"datum": -6}}},
       {"transform": [{"filter": "datum.bp == 0"}], "mark": {"type": "rule", "strokeDash": [3, 3], "color": "#9e9e9e", "strokeWidth": 1.4, "clip": false}, "encoding": {"x": {"datum": 340}, "y": {"datum": 0.9}, "y2": {"datum": -6}}}
      ]
     }
    }
   ]
  }
 ],
 "spacing": 0,
 "bounds": "flush"
}
